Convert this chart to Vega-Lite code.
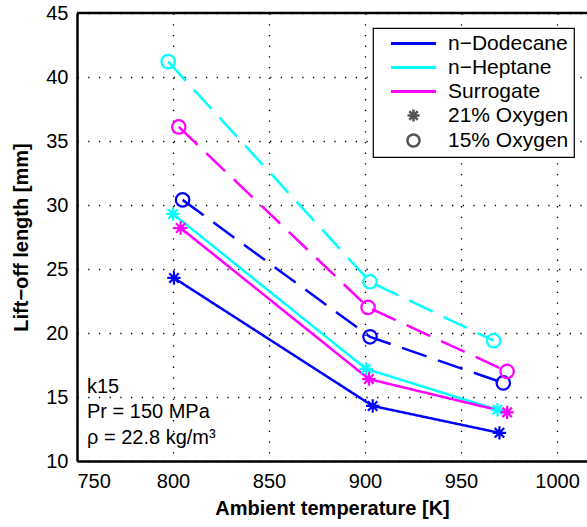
{
  "$schema": "https://vega.github.io/schema/vega-lite/v6.json",
  "width": 510,
  "height": 448,
  "autosize": {"type": "none"},
  "padding": {"left": 77, "top": 13, "right": 0, "bottom": 66},
  "background": "white",
  "config": {
    "font": "Liberation Sans",
    "view": {"stroke": null},
    "axis": {
      "domainColor": "black",
      "domainWidth": 2.5,
      "gridColor": "black",
      "gridOpacity": 1,
      "gridWidth": 1.3,
      "gridDash": [1.3, 9.4],
      "ticks": false,
      "labelFont": "Liberation Sans",
      "labelFontSize": 20,
      "labelColor": "black",
      "titleFont": "Liberation Sans",
      "titleFontSize": 20,
      "titleFontWeight": "bold",
      "titleColor": "black"
    },
    "legend": {
      "orient": "none",
      "legendX": 296,
      "legendY": 15,
      "padding": 5,
      "strokeColor": "black",
      "strokeWidth": 1.2,
      "fillColor": "white",
      "symbolSize": 144,
      "symbolStrokeWidth": 3,
      "symbolOffset": 25,
      "labelOffset": 24,
      "rowPadding": 2,
      "labelFont": "Liberation Sans",
      "labelFontSize": 21,
      "labelColor": "black",
      "labelLimit": 400
    }
  },
  "layer": [
    {
      "data": {"name": "pts", "values": [
        {"fuel": "n−Dodecane", "oxygen": "21%", "T": 800.5, "L": 24.3},
        {"fuel": "n−Dodecane", "oxygen": "21%", "T": 904, "L": 14.3},
        {"fuel": "n−Dodecane", "oxygen": "21%", "T": 970, "L": 12.2},
        {"fuel": "n−Dodecane", "oxygen": "15%", "T": 805, "L": 30.4},
        {"fuel": "n−Dodecane", "oxygen": "15%", "T": 902.6, "L": 19.7},
        {"fuel": "n−Dodecane", "oxygen": "15%", "T": 972, "L": 16.1},
        {"fuel": "n−Heptane", "oxygen": "21%", "T": 800, "L": 29.3},
        {"fuel": "n−Heptane", "oxygen": "21%", "T": 900.5, "L": 17.2},
        {"fuel": "n−Heptane", "oxygen": "21%", "T": 969, "L": 14.0},
        {"fuel": "n−Heptane", "oxygen": "15%", "T": 797.5, "L": 41.2},
        {"fuel": "n−Heptane", "oxygen": "15%", "T": 902.6, "L": 24.0},
        {"fuel": "n−Heptane", "oxygen": "15%", "T": 967, "L": 19.4},
        {"fuel": "Surrogate", "oxygen": "21%", "T": 804, "L": 28.2},
        {"fuel": "Surrogate", "oxygen": "21%", "T": 902, "L": 16.4},
        {"fuel": "Surrogate", "oxygen": "21%", "T": 974, "L": 13.8},
        {"fuel": "Surrogate", "oxygen": "15%", "T": 803, "L": 36.1},
        {"fuel": "Surrogate", "oxygen": "15%", "T": 901.6, "L": 22.0},
        {"fuel": "Surrogate", "oxygen": "15%", "T": 974, "L": 17.0}
      ]},
      "layer": [
        {
          "mark": {"type": "line", "strokeWidth": 2.5, "clip": true},
          "encoding": {
            "x": {"field": "T", "type": "quantitative",
              "scale": {"domain": [750, 1015.6], "nice": false, "zero": false},
              "axis": {"values": [750, 800, 850, 900, 950, 1000], "format": "d", "title": "Ambient temperature [K]", "labelPadding": 10, "titlePadding": 7, "grid": true}},
            "y": {"field": "L", "type": "quantitative",
              "scale": {"domain": [10, 45], "nice": false, "zero": false},
              "axis": {"values": [10, 15, 20, 25, 30, 35, 40, 45], "title": "Lift−off length [mm]", "labelPadding": 9, "titlePadding": 14, "grid": true}},
            "color": {"field": "fuel", "type": "nominal",
              "scale": {"domain": ["n−Dodecane", "n−Heptane", "Surrogate", "21% Oxygen", "15% Oxygen"],
                        "range": ["#0000ff", "#00ffff", "#ff00ff", "#555555", "#555555"]},
              "legend": {
                "title": null,
                "encode": {
                  "symbols": {"update": {
                    "shape": {"signal": "datum.value === '21% Oxygen' ? 'M0,-1L0,1M-1,0L1,0M-0.7071,-0.7071L0.7071,0.7071M-0.7071,0.7071L0.7071,-0.7071' : datum.value === '15% Oxygen' ? 'circle' : 'M-3.75,0L3.75,0'"},
                    "size": {"value": 144},
                    "fill": {"value": "transparent"},
                    "strokeDash": {"value": [1, 0]},
                    "strokeWidth": {"signal": "datum.value === '21% Oxygen' || datum.value === '15% Oxygen' ? 2.5 : 3"}
                  }}
                }
              }},
            "strokeDash": {"field": "oxygen", "type": "nominal",
              "scale": {"domain": ["21%", "15%"], "range": [[1, 0], [26, 12]]}, "legend": null},
            "order": {"field": "T", "type": "quantitative"}
          }
        },
        {
          "mark": {"type": "point", "filled": false, "strokeWidth": 2.2, "size": 180, "opacity": 1},
          "encoding": {
            "x": {"field": "T", "type": "quantitative"},
            "y": {"field": "L", "type": "quantitative"},
            "color": {"field": "fuel", "type": "nominal"},
            "shape": {"field": "oxygen", "type": "nominal",
              "scale": {"domain": ["21%", "15%"], "range": ["M0,-1L0,1M-1,0L1,0M-0.7071,-0.7071L0.7071,0.7071M-0.7071,0.7071L0.7071,-0.7071", "circle"]},
              "legend": null}
          }
        }
      ]
    },
    {
      "data": {"values": [{}]},
      "mark": {"type": "rule", "color": "black", "strokeWidth": 2.5},
      "encoding": {"y": {"datum": 45}}
    },
    {
      "data": {"values": [{}]},
      "mark": {"type": "text", "align": "left", "baseline": "middle", "fontSize": 20, "font": "Liberation Sans", "color": "black"},
      "encoding": {"x": {"datum": 755.2}, "y": {"datum": 15.8}, "text": {"value": "k15"}}
    },
    {
      "data": {"values": [{}]},
      "mark": {"type": "text", "align": "left", "baseline": "middle", "fontSize": 20, "font": "Liberation Sans", "color": "black"},
      "encoding": {"x": {"datum": 755.2}, "y": {"datum": 13.8}, "text": {"value": "Pr = 150 MPa"}}
    },
    {
      "data": {"values": [{}]},
      "mark": {"type": "text", "align": "left", "baseline": "middle", "fontSize": 20, "font": "Liberation Sans", "color": "black"},
      "encoding": {"x": {"datum": 755.2}, "y": {"datum": 11.8}, "text": {"value": "ρ = 22.8 kg/m³"}}
    }
  ]
}
